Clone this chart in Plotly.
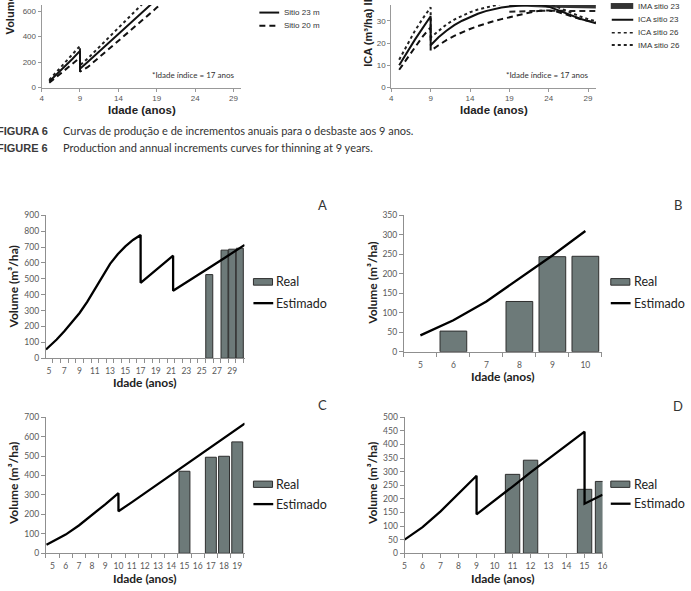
import plotly.graph_objects as go

W, H = 691, 591


def fx(p):
    return p / W


def fy(p):
    return 1 - p / H


# ---------------- DATA ----------------
# Top-left panel (Figura 6, production curves, partially visible)
tl_age_23 = [5, 6, 7, 8, 9, 9, 10, 12, 14, 16, 18, 19]
tl_vol_23 = [48, 105, 165, 225, 288, 147, 200, 310, 420, 530, 640, 695]
tl_age_26 = [5, 6, 7, 8, 9, 9, 10, 12, 14, 16, 17, 18]
tl_vol_26 = [60, 125, 190, 258, 327, 175, 228, 348, 468, 590, 650, 710]
tl_age_20 = [5, 6, 7, 8, 9, 9, 10, 12, 14, 16, 18, 19, 20]
tl_vol_20 = [38, 85, 135, 185, 237, 125, 160, 262, 365, 470, 575, 628, 680]
tl_xticks = [4, 9, 14, 19, 24, 29]
tl_yticks = [0, 200, 400, 600]

# Top-right panel (ICA / IMA, partially visible)
tr_age = [5, 6, 7, 8, 9, 9, 10, 11, 12, 13, 14, 15, 16, 17, 18, 19, 20, 21, 22, 23, 24, 25, 26, 27, 28, 29, 30]
tr_ica23 = [10, 16, 21.5, 26.8, 32, 19, 22.6, 25.5, 28, 30, 31.7, 33.1, 34.3, 35.2, 35.9, 36.4, 36.8, 37.1, 37.3, 37.1, 36.3, 35, 33.6, 32.2, 30.9, 29.8, 28.9]
tr_ica26 = [12.5, 19, 25.5, 31, 36, 22.5, 25.5, 28.3, 30.5, 32.3, 33.8, 35, 36, 36.9, 37.6, 38.2, 38.5, 38.7, 38.8, 38.6, 37.8, 36.3, 34.8, 33.3, 31.9, 30.7, 29.7]
tr_ica20 = [8, 13, 18.5, 23, 27, 16.5, 19, 21.3, 23.2, 24.9, 26.3, 27.6, 28.8, 29.8, 30.7, 31.6, 32.5, 33.3, 34, 34.5, 34.6, 34.1, 33.1, 31.9, 30.7, 29.8, 29.2]
tr_ima_age = [19, 20, 21, 22, 23, 24, 25, 26, 27, 28, 29, 30]
tr_ima20 = [34.0, 34.2, 34.3, 34.4, 34.5, 34.5, 34.5, 34.5, 34.5, 34.4, 34.4, 34.3]
tr_ima23 = [37.6, 37.4, 36.9, 36.8, 36.8, 36.8, 36.8, 36.7, 36.7, 36.6, 36.6, 36.5]
tr_xticks = [4, 9, 14, 19, 24, 29]
tr_yticks = [0, 10, 20, 30]

# Panel A
a_bar_age = [26, 28, 29, 30]
a_bar_vol = [527, 681, 687, 693]
a_line_age = [4.6, 5, 6, 7, 8, 9, 10, 11, 12, 13, 14, 15, 16, 17, 17, 18, 19, 20, 21.26, 21.26, 22, 24, 26, 28, 30, 30.64]
a_line_vol = [55, 72, 118, 170, 225, 285, 355, 435, 515, 595, 655, 705, 745, 776, 475, 515, 555, 596, 646, 425, 447, 509, 570, 632, 694, 714]
a_xticks = list(range(5, 30, 2))

# Panel B
b_bar_age = [6, 8, 9, 10]
b_bar_vol = [53, 129, 244, 245]
b_line_age = [5, 6, 7, 8, 9, 10]
b_line_vol = [42, 81, 129, 188, 247, 310]
b_xticks = [5, 6, 7, 8, 9, 10]

# Panel C
c_bar_age = [15, 17, 18, 19]
c_bar_vol = [422, 494, 499, 573]
c_line_age = [4.55, 5, 5.55, 6, 7, 8, 9, 10, 10, 11, 12, 13, 14, 15, 16, 17, 18, 19, 19.58]
c_line_vol = [44, 60, 78, 96, 143, 196, 252, 309, 216, 262, 309, 357, 405, 454, 500, 547, 593, 638, 668]
c_xticks = list(range(5, 20))

# Panel D
d_bar_age = [11, 12, 15, 16]
d_bar_vol = [290, 342, 235, 264]
d_line_age = [5, 6, 7, 8, 9, 9, 10, 11, 12, 13, 14, 15, 15, 16]
d_line_vol = [50, 96, 154, 218, 285, 143, 193, 245, 297, 348, 398, 447, 182, 215]
d_xticks = list(range(5, 17))

BAR_FILL = "#6d7a79"
BAR_EDGE = "#2e2e2e"
AX_COL = "#8f8f8f"
TICK_FONT = dict(family="Lato", size=8.5, color="#595959")
TOP_TICK_FONT = dict(family="Liberation Sans", size=8, color="#555555")

fig = go.Figure()

# ---- top-left traces ----
fig.add_trace(go.Scatter(x=tl_age_26, y=tl_vol_26, mode="lines", xaxis="x", yaxis="y",
                         line=dict(color="#222", width=2, dash="dot"), showlegend=False))
fig.add_trace(go.Scatter(x=tl_age_23, y=tl_vol_23, mode="lines", xaxis="x", yaxis="y",
                         line=dict(color="#111", width=2), showlegend=False))
fig.add_trace(go.Scatter(x=tl_age_20, y=tl_vol_20, mode="lines", xaxis="x", yaxis="y",
                         line=dict(color="#111", width=2, dash="6px,4px"), showlegend=False))

# ---- top-right traces ----
fig.add_trace(go.Scatter(x=tr_ima_age, y=tr_ima23, mode="lines", xaxis="x2", yaxis="y2",
                         line=dict(color="#333", width=4.5), showlegend=False))
fig.add_trace(go.Scatter(x=tr_ima_age, y=tr_ima20, mode="lines", xaxis="x2", yaxis="y2",
                         line=dict(color="#222", width=2, dash="6px,4px"), showlegend=False))
fig.add_trace(go.Scatter(x=tr_age, y=tr_ica26, mode="lines", xaxis="x2", yaxis="y2",
                         line=dict(color="#222", width=2, dash="dot"), showlegend=False))
fig.add_trace(go.Scatter(x=tr_age, y=tr_ica23, mode="lines", xaxis="x2", yaxis="y2",
                         line=dict(color="#111", width=2), showlegend=False))
fig.add_trace(go.Scatter(x=tr_age, y=tr_ica20, mode="lines", xaxis="x2", yaxis="y2",
                         line=dict(color="#111", width=2, dash="6px,4px"), showlegend=False))

# ---- bottom panels ----
panels = [
    ("x3", "y3", a_bar_age, a_bar_vol, a_line_age, a_line_vol, 0.92),
    ("x4", "y4", b_bar_age, b_bar_vol, b_line_age, b_line_vol, 0.81),
    ("x5", "y5", c_bar_age, c_bar_vol, c_line_age, c_line_vol, 0.83),
    ("x6", "y6", d_bar_age, d_bar_vol, d_line_age, d_line_vol, 0.8),
]
for xa, ya, bx, by, lx, ly, bw in panels:
    fig.add_trace(go.Bar(x=bx, y=by, xaxis=xa, yaxis=ya, width=bw, name="Real",
                         marker=dict(color=BAR_FILL, line=dict(color=BAR_EDGE, width=1)),
                         showlegend=False))
    fig.add_trace(go.Scatter(x=lx, y=ly, xaxis=xa, yaxis=ya, mode="lines", name="Estimado",
                             line=dict(color="#000", width=2.3), showlegend=False))


def top_x(domain, anchor):
    return dict(domain=domain, anchor=anchor, range=[4, 30], tickvals=tl_xticks,
                showline=True, linecolor="#999", linewidth=1, ticks="outside", ticklen=3,
                tickcolor="#999", showgrid=False, zeroline=False, tickfont=TOP_TICK_FONT)


def top_y(domain, anchor, rng, tv):
    return dict(domain=domain, anchor=anchor, range=rng, tickvals=tv,
                showline=True, linecolor="#999", linewidth=1, ticks="outside", ticklen=3,
                tickcolor="#999", showgrid=False, zeroline=False, tickfont=TOP_TICK_FONT)


def cat_x(domain, anchor, rng, tv, bounds):
    return dict(domain=domain, anchor=anchor, range=rng, tickvals=tv,
                ticks="outside", ticklen=4, tickcolor="rgba(0,0,0,0)", ticklabelstandoff=1,
                showline=True, linecolor=AX_COL, linewidth=1, showgrid=False, zeroline=False,
                tickfont=TICK_FONT,
                minor=dict(tickmode="array", tickvals=bounds, ticks="outside", ticklen=4,
                           tickcolor=AX_COL, showgrid=False))


def val_y(domain, anchor, rng, dt):
    return dict(domain=domain, anchor=anchor, range=rng, dtick=dt, tick0=0,
                showline=True, linecolor=AX_COL, linewidth=1, ticks="outside", ticklen=4,
                tickcolor=AX_COL, showgrid=False, zeroline=False, tickfont=TICK_FONT)


layout = dict(
    width=W, height=H, margin=dict(l=0, r=0, t=0, b=0),
    paper_bgcolor="white", plot_bgcolor="white", showlegend=False, barmode="overlay",
    xaxis=top_x([fx(40), fx(241.7)], "y"),
    yaxis=top_y([fy(84), 1], "x", [0, 648.6], tl_yticks),
    xaxis2=top_x([fx(393.3), fx(600)], "y2"),
    yaxis2=top_y([fy(84), 1], "x2", [0, 37.05], tr_yticks),
    xaxis3=cat_x([fx(44.3), fx(245)], "y3", [4.58, 30.62], a_xticks, [k + 0.5 for k in range(4, 31)]),
    yaxis3=val_y([fy(359.3), fy(214)], "x3", [0, 900], 100),
    xaxis4=cat_x([fx(406), fx(606)], "y4", [4.5, 10.5], b_xticks, [k + 0.5 for k in range(4, 11)]),
    yaxis4=val_y([fy(352.7), fy(214)], "x4", [0, 350], 50),
    xaxis5=cat_x([fx(44.3), fx(245)], "y5", [4.5, 19.55], c_xticks, [k + 0.5 for k in range(4, 20)]),
    yaxis5=val_y([fy(557.7), fy(419.3)], "x5", [0, 700], 100),
    xaxis6=dict(domain=[fx(406.7), fx(606.7)], anchor="y6", range=[5, 16], tickvals=d_xticks,
                showline=True, linecolor=AX_COL, linewidth=1, ticks="outside", ticklen=4,
                ticklabelstandoff=1,
                tickcolor=AX_COL, showgrid=False, zeroline=False, tickfont=TICK_FONT),
    yaxis6=val_y([fy(557.7), fy(419.3)], "x6", [0, 500], 50),
)
fig.update_layout(**layout)

anns = []
shapes = []


def ann(text, x, y, size, family="Lato", color="#333", xanchor="center", angle=0):
    anns.append(dict(text=text, x=fx(x), y=fy(y), xref="paper", yref="paper",
                     xanchor=xanchor, yanchor="middle", showarrow=False, textangle=angle,
                     font=dict(family=family, size=size, color=color)))


# ---- top panels text ----
ann("<b>Volume (m³/ha)</b>", 8.3, -10, 11, "Liberation Sans", "#222", angle=-90)
ann("<b>Idade (anos)</b>", 141, 107.3, 11.5, "Liberation Sans", "#222")
ann("*Idade índice = 17 anos", 150, 71, 8, "Lato", "#333", xanchor="left")
ann("<b>ICA (m³/ha) IMA (m³/ha)</b>", 370, 1.5, 11, "Liberation Sans", "#222", angle=-90)
ann("<b>Idade (anos)</b>", 496.7, 106.7, 11.5, "Liberation Sans", "#222")
ann("*Idade índice = 17 anos", 506.7, 71, 8, "Lato", "#333", xanchor="left")

# top-left legend
ann("Sitio 23 m", 283, 7.7, 8, "Liberation Sans", "#333", xanchor="left")
ann("Sitio 20 m", 283, 21, 8, "Liberation Sans", "#333", xanchor="left")
shapes.append(dict(type="line", xref="paper", yref="paper", x0=fx(260), x1=fx(280), y0=fy(7.7), y1=fy(7.7),
                   line=dict(color="#111", width=2)))
shapes.append(dict(type="line", xref="paper", yref="paper", x0=fx(260), x1=fx(280), y0=fy(21), y1=fy(21),
                   line=dict(color="#111", width=2, dash="6px,4px")))

# top-right legend
ann("IMA sitio 23", 640, 1.7, 8, "Liberation Sans", "#333", xanchor="left")
ann("ICA sitio 23", 640, 15, 8, "Liberation Sans", "#333", xanchor="left")
ann("ICA sitio 26", 640, 28.3, 8, "Liberation Sans", "#333", xanchor="left")
ann("IMA sitio 26", 640, 40.7, 8, "Liberation Sans", "#333", xanchor="left")
shapes.append(dict(type="rect", xref="paper", yref="paper", x0=fx(615), x1=fx(637.7), y0=fy(-2), y1=fy(4),
                   fillcolor="#333", line=dict(width=0)))
shapes.append(dict(type="line", xref="paper", yref="paper", x0=fx(616), x1=fx(637.7), y0=fy(15), y1=fy(15),
                   line=dict(color="#111", width=2)))
shapes.append(dict(type="line", xref="paper", yref="paper", x0=fx(616), x1=fx(637.7), y0=fy(28.3), y1=fy(28.3),
                   line=dict(color="#222", width=1.5, dash="dot")))
shapes.append(dict(type="line", xref="paper", yref="paper", x0=fx(616), x1=fx(637.7), y0=fy(40.7), y1=fy(40.7),
                   line=dict(color="#222", width=2, dash="dot")))

# captions
ann("<b>FIGURA 6</b>", -6.7, 127.7, 11, "Liberation Sans", "#3a3a3a", xanchor="left")
ann("<b>FIGURE 6</b>", -6.7, 145, 11, "Liberation Sans", "#3a3a3a", xanchor="left")
ann("Curvas de produção e de incrementos anuais para o desbaste aos 9 anos.", 59.3, 127.7, 11,
    "Lato", "#333", xanchor="left")
ann("Production and annual increments curves for thinning at 9 years.", 59.3, 145, 11,
    "Lato", "#333", xanchor="left")

# bottom panels: letters, titles, legends
for letter, x, y in [("A", 323.3, 203), ("B", 683.3, 203), ("C", 323.3, 406.7), ("D", 683.3, 408.3)]:
    ann(letter, x, y, 13, "Lato", "#333")

for ytx, yty, xtx, xty in [(11.7, 286.7, 144.5, 384.5), (374.3, 283, 506, 378),
                           (11.7, 486.7, 144.5, 583.5), (374.3, 486.7, 506.5, 583.5)]:
    ann("<b>Volume (m³/ha)</b>", ytx, yty, 12, "Lato", "#222", angle=-90)
    ann("<b>Idade (anos)</b>", xtx, xty, 12, "Lato", "#222")

for lx0, ry0, ry1, ly in [(254, 278.3, 285, 303.3), (615, 278.3, 285, 303.3),
                          (254, 484.3, 490.7, 507.7), (615, 484.3, 490.7, 507.3)]:
    shapes.append(dict(type="rect", xref="paper", yref="paper", x0=fx(lx0), x1=fx(lx0 + 19.3),
                       y0=fy(ry1), y1=fy(ry0), fillcolor=BAR_FILL, line=dict(color=BAR_EDGE, width=1)))
    shapes.append(dict(type="line", xref="paper", yref="paper", x0=fx(lx0), x1=fx(lx0 + 20), y0=fy(ly), y1=fy(ly),
                       line=dict(color="#000", width=2.3)))
    ann("Real", lx0 + 21, (ry0 + ry1) / 2, 12.5, "Lato", "#222", xanchor="left")
    ann("Estimado", lx0 + 21, ly, 12.5, "Lato", "#222", xanchor="left")

fig.update_layout(annotations=anns, shapes=shapes)
fig.write_html("out.html")
